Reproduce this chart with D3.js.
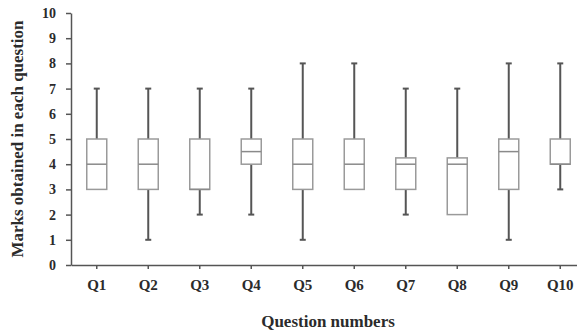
<!DOCTYPE html>
<html lang="en">
<head>
  <meta charset="UTF-8">
  <title>Marks obtained in each question</title>
  <script src="https://d3js.org/d3.v7.min.js"></script>
  <style>
    body {
      margin: 0;
      background: #fff;
    }
    svg text {
      font-family: 'Liberation Serif', 'Times New Roman', serif;
      font-weight: bold;
      fill: #2b2b2b;
    }
    .axis path, .axis line {
      stroke: #555;
      stroke-width: 1.5px;
    }
    .box {
      fill: #fff;
      stroke: #9a9a9a;
      stroke-width: 1.5px;
    }
    .median {
      stroke: #8a8a8a;
      stroke-width: 1.5px;
    }
    .whisker {
      stroke: #555;
      stroke-width: 2px;
    }
  </style>
</head>
<body>
  <svg id="chart"></svg>

  <script>
    // five-number summaries
    const questions = ["Q1", "Q2", "Q3", "Q4", "Q5", "Q6", "Q7", "Q8", "Q9", "Q10"];
    const minVals    = [3, 1, 2, 2,   1, 3, 2,    2,    1,   3];
    const q1Vals     = [3, 3, 3, 4,   3, 3, 3,    2,    3,   4];
    const medianVals = [4, 4, 3, 4.5, 4, 4, 4,    4,    4.5, 4];
    const q3Vals     = [5, 5, 5, 5,   5, 5, 4.25, 4.25, 5,   5];
    const maxVals    = [7, 7, 7, 7,   8, 8, 7,    7,    8,   8];
    const yTicks = [0, 1, 2, 3, 4, 5, 6, 7, 8, 9, 10];

    const width = 577, height = 333;

    const svg = d3.select("#chart")
      .attr("width", width)
      .attr("height", height);

    const data = questions.map((q, i) => ({
      q: q, min: minVals[i], q1: q1Vals[i], med: medianVals[i], q3: q3Vals[i], max: maxVals[i]
    }));

    // plot runs off the right edge in the original
    const x = d3.scaleBand()
      .domain(questions)
      .range([71, 586]);

    const y = d3.scaleLinear()
      .domain([0, 10])
      .range([265, 13]);

    svg.append("g")
      .attr("class", "axis")
      .attr("transform", "translate(0,265)")
      .call(d3.axisBottom(x).tickSize(4).tickPadding(10).tickSizeOuter(0))
      .call(g => g.selectAll("text").style("font-size", "15px"));

    svg.append("g")
      .attr("class", "axis")
      .attr("transform", "translate(71,0)")
      .call(d3.axisLeft(y).tickValues(yTicks).tickSize(5).tickPadding(10).tickSizeOuter(0))
      .call(g => g.selectAll("text").style("font-size", "14px"));

    const bw = 20, cap = 6;

    const boxes = svg.append("g")
      .selectAll("g")
      .data(data)
      .enter().append("g")
      .attr("transform", d => `translate(${x(d.q) + x.bandwidth() / 2},0)`);

    boxes.append("line")
      .attr("class", "whisker")
      .attr("y1", d => y(d.q3))
      .attr("y2", d => y(d.max));

    boxes.append("line")
      .attr("class", "whisker")
      .attr("y1", d => y(d.q1))
      .attr("y2", d => y(d.min));

    boxes.append("line")
      .attr("class", "whisker")
      .attr("x1", -cap / 2).attr("x2", cap / 2)
      .attr("y1", d => y(d.max)).attr("y2", d => y(d.max));

    boxes.filter(d => d.min < d.q1).append("line")
      .attr("class", "whisker")
      .attr("x1", -cap / 2).attr("x2", cap / 2)
      .attr("y1", d => y(d.min)).attr("y2", d => y(d.min));

    boxes.append("rect")
      .attr("class", "box")
      .attr("x", -bw / 2)
      .attr("width", bw)
      .attr("y", d => y(d.q3))
      .attr("height", d => y(d.q1) - y(d.q3));

    boxes.append("line")
      .attr("class", "median")
      .attr("x1", -bw / 2).attr("x2", bw / 2)
      .attr("y1", d => y(d.med)).attr("y2", d => y(d.med));

    svg.append("text")
      .attr("transform", "translate(23,139) rotate(-90)")
      .attr("text-anchor", "middle")
      .style("font-size", "17px")
      .text("Marks obtained in each question");

    svg.append("text")
      .attr("x", 328)
      .attr("y", 327)
      .attr("text-anchor", "middle")
      .style("font-size", "17px")
      .text("Question numbers");
  </script>
</body>
</html>
